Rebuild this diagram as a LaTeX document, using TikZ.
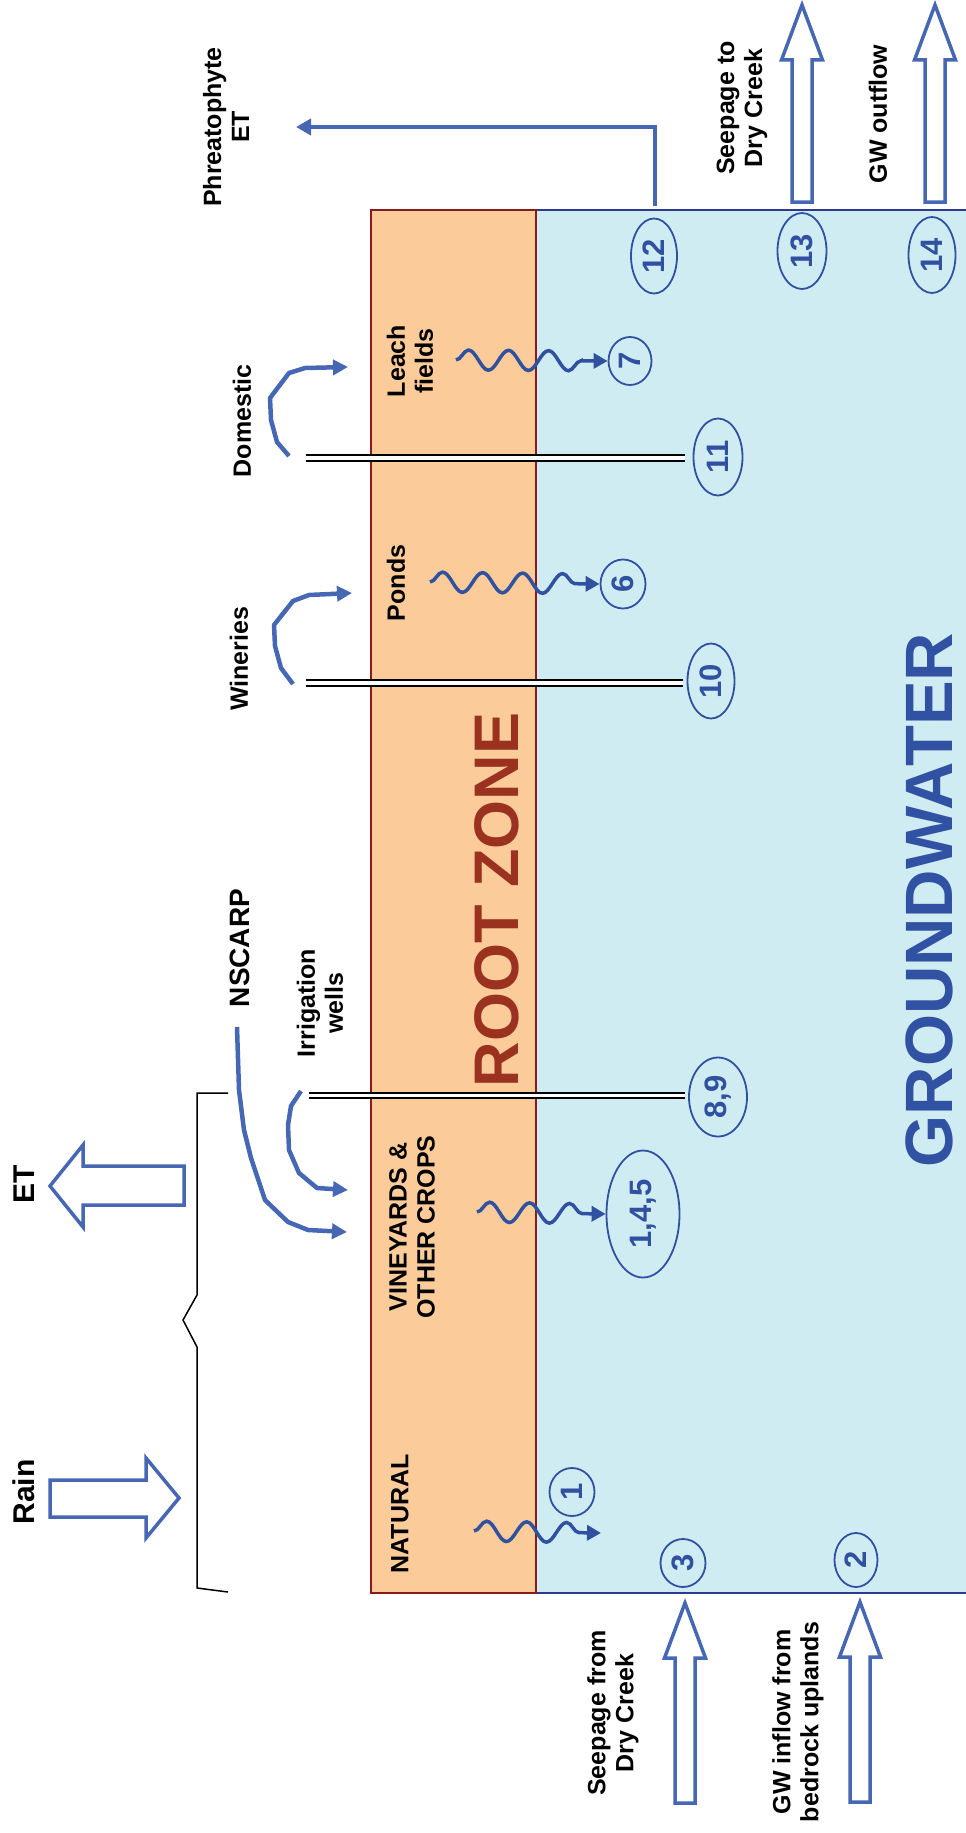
\documentclass[tikz,border=0pt]{standalone}
\usepackage{fontspec}
\setmainfont{Liberation Sans}
\usetikzlibrary{shapes.geometric,arrows.meta,decorations.pathmorphing}
\definecolor{rzfill}{RGB}{251,203,153}
\definecolor{gwfill}{RGB}{208,236,243}
\definecolor{rzline}{RGB}{139,26,26}
\definecolor{gwline}{RGB}{43,57,144}
\definecolor{rztext}{RGB}{155,50,32}
\definecolor{gwtext}{RGB}{49,82,163}
\definecolor{arrblue}{RGB}{70,103,179}
\definecolor{numblue}{RGB}{48,80,160}
\begin{document}
\begin{tikzpicture}[x=1pt,y=-1pt,
  lbl/.style={font=\fontsize{25}{28}\selectfont\bfseries, rotate=90, align=center, inner sep=0pt},
  biglbl/.style={font=\fontsize{30}{34}\selectfont\bfseries, rotate=90, inner sep=0pt},
  num/.style={ellipse, draw=numblue, line width=1.8pt, rotate=90, text=numblue, font=\fontsize{31}{32}\selectfont\bfseries, inner sep=0pt},
  hollow/.style={draw=arrblue, line width=3.5pt, fill=white, line join=miter},
  curvearrow/.style={draw=arrblue, line width=4.5pt, line join=round, -{Triangle[length=15pt,width=15pt]}},
  wavy/.style={draw=numblue, line width=3.5pt, decorate, decoration={snake, amplitude=10pt, segment length=40pt, post length=14pt}, -{Triangle[length=14pt,width=15pt]}},
  wellline/.style={line width=2pt, black},
  bracestyle/.style={line width=1.5pt, black, line join=miter}
]
\useasboundingbox (0,0) rectangle (966,1833);
% zones
\draw[draw=gwline, line width=1.5pt, fill=gwfill] (536,210) rectangle (980,1593);
\draw[draw=rzline, line width=2pt, fill=rzfill] (371,210) rectangle (536,1593);
\node[font=\fontsize{63}{63}\selectfont\bfseries, text=rztext, rotate=90, inner sep=0pt] (rz) at (497,900) {ROOT ZONE};
\node[font=\fontsize{67}{67}\selectfont\bfseries, text=gwtext, rotate=90, inner sep=0pt] (gw) at (929,900) {GROUNDWATER};

% wells
\fill[white] (306,455) rectangle (685,461);
\draw[wellline] (306,455) -- (685,455) (306,461) -- (685,461);
\fill[white] (306,680) rectangle (683,686);
\draw[wellline] (306,680) -- (683,680) (306,686) -- (683,686);
\fill[white] (309,1093) rectangle (685,1098);
\draw[wellline] (309,1093) -- (685,1093) (309,1098) -- (685,1098);

% number ellipses
\node[num, minimum width=75pt, minimum height=46pt] (n12) at (654,256) {12};
\node[num, minimum width=76pt, minimum height=49pt] (n13) at (802,251) {13};
\node[num, minimum width=76pt, minimum height=47pt] (n14) at (932,255) {14};
\node[num, minimum width=48pt, minimum height=43pt] (n7) at (630,361) {7};
\node[num, minimum width=77pt, minimum height=49pt] (n11) at (718,457) {11};
\node[num, minimum width=49pt, minimum height=45pt] (n6) at (623,584) {6};
\node[num, minimum width=75pt, minimum height=47pt] (n10) at (711,681) {10};
\node[num, minimum width=79pt, minimum height=58pt] (n89) at (718,1097) {8,9};
\node[num, minimum width=127pt, minimum height=73pt] (n145) at (643,1214) {1,4,5};
\node[num, minimum width=48pt, minimum height=45pt] (n1) at (572,1492) {1};
\node[num, minimum width=48pt, minimum height=45pt] (n3) at (683,1563) {3};
\node[num, minimum width=54pt, minimum height=43pt] (n2) at (856,1560) {2};

% labels
\node[lbl] (phr) at (226,127) {Phreatophyte\\ET};
\node[lbl] (seepto) at (742,108) {Seepage to\\Dry Creek};
\node[lbl] (gwout) at (878,114) {GW outflow};
\node[lbl] (dom) at (242,421) {Domestic};
\node[lbl] (leach) at (410,361) {Leach\\fields};
\node[lbl] (ponds) at (396,583) {Ponds};
\node[lbl] (win) at (239,659) {Wineries};
\node[biglbl, font=\fontsize{28}{30}\selectfont\bfseries] (nscarp) at (240,948) {NSCARP};
\node[lbl] (irr) at (320,1003) {Irrigation\\wells};
\node[lbl] (vine) at (412,1227) {VINEYARDS \&\\OTHER CROPS};
\node[lbl] (nat) at (400,1514) {NATURAL};
\node[biglbl] (rain) at (24,1492) {Rain};
\node[biglbl] (et) at (24,1184) {ET};
\node[lbl] (seepfrom) at (613,1713) {Seepage from\\Dry Creek};
\node[lbl] (gwin) at (798,1722) {GW inflow from\\bedrock uplands};

% phreatophyte arrow
\coordinate (p12) at (655,206);
\coordinate (pend) at (296,127);
\draw[arrblue, line width=4.5pt, line join=miter, -{Triangle[length=15pt,width=16pt]}] (p12) |- (pend);

% hollow outflow / inflow arrows
\draw[hollow] (792,202) -- (792,60) -- (781.5,60) -- (802,5) -- (822.5,60) -- (812,60) -- (812,202) -- cycle;
\draw[hollow] (925,202) -- (925,60) -- (914.5,60) -- (935,5) -- (955.5,60) -- (945,60) -- (945,202) -- cycle;
\draw[hollow] (675,1803) -- (675,1658) -- (664.5,1658) -- (685,1603) -- (705.5,1658) -- (695,1658) -- (695,1803) -- cycle;
\draw[hollow] (850,1802) -- (850,1657) -- (839.5,1657) -- (860,1602) -- (880.5,1657) -- (870,1657) -- (870,1802) -- cycle;
% rain and ET arrows
\draw[hollow] (50,1480) -- (146,1480) -- (146,1458) -- (179,1498) -- (146,1538) -- (146,1517) -- (50,1517) -- cycle;
\draw[hollow] (184,1166) -- (83,1166) -- (83,1145) -- (50,1186) -- (83,1227) -- (83,1205) -- (184,1205) -- cycle;

% brace
\draw[bracestyle] (228,1093) -- (197,1093) -- (197,1295) -- (183,1320) -- (197,1347) -- (197,1588) -- (228,1592);

% curved supply arrows
\coordinate (dstart) at (289,456);
\coordinate (dtip) at (348,367);
\draw[curvearrow] (dstart) -- (277,442) -- (271,420) -- (270,398) -- (289,373) -- (305,368) -- (dtip);
\coordinate (wstart) at (293,684);
\coordinate (wtip) at (352,593);
\draw[curvearrow] (wstart) -- (281,668) -- (275,646) -- (274,625) -- (293,601) -- (309,595) -- (wtip);
\coordinate (istart) at (301,1091);
\coordinate (itip) at (348,1190);
\draw[curvearrow] (istart) -- (291,1106) -- (288,1125) -- (289,1150) -- (299,1173) -- (317,1188) -- (itip);
\coordinate (nstart) at (237,1027);
\coordinate (ntip) at (347,1232);
\draw[curvearrow] (nstart) -- (239,1090) -- (244,1130) -- (251,1158) -- (265,1200) -- (288,1222) -- (308,1230) -- (ntip);

% wavy percolation arrows
\coordinate (w7) at (456,360);
\draw[wavy] (w7) -- (n7.north);
\coordinate (w6) at (430,582);
\draw[wavy] (w6) -- (n6.north);
\coordinate (w145) at (477,1212);
\draw[wavy] (w145) -- (n145.north);
\coordinate (w1) at (474,1531);
\coordinate (w1e) at (601,1533);
\draw[wavy] (w1) -- (w1e);
\end{tikzpicture}
\end{document}
